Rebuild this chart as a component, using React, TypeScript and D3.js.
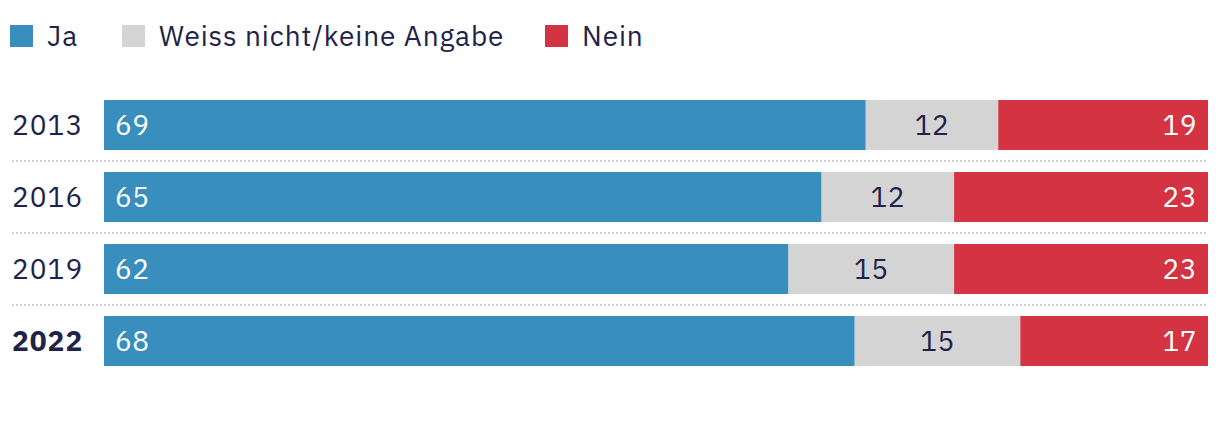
import React from "react";
import * as d3 from "d3";

const years = ["2013", "2016", "2019", "2022"];
const ja = [69, 65, 62, 68];
const weissNicht = [12, 12, 15, 15];
const nein = [19, 23, 23, 17];
const seriesNames = ["Ja", "Weiss nicht/keine Angabe", "Nein"];
const colors = ["#388ebc", "#d4d4d4", "#d43441"];
const textColor = "#20224a";
const FONT = "'IBM Plex Sans', 'Open Sans', sans-serif";

export default function App() {
  const W = 1220, H = 426;
  const x = d3.scaleLinear().domain([0, 100]).range([104, 1208]);
  const y = d3.scaleBand<string>().domain(years).range([89, 377]).paddingInner(22 / 72).paddingOuter(11 / 72);
  const rows = years.map((yr, i) => ({ yr, vals: [ja[i], weissNicht[i], nein[i]] }));
  const legendX = [10, 122, 545];
  return (
    <svg width={W} height={H} style={{ position: "absolute", left: 0, top: 0, background: "#fff" }} fontFamily={FONT}>
      {seriesNames.map((s, i) => (
        <g key={s} transform={`translate(${legendX[i]},25)`}>
          <rect width={23} height={22} fill={colors[i]} />
          <text x={37} y={11} dy="0.35em" fontSize={28} letterSpacing={0.9} fill={textColor}>{s}</text>
        </g>
      ))}
      {years.slice(1).map((yr) => (
        <line key={yr} x1={12} x2={1208} y1={(y(yr) as number) - 11} y2={(y(yr) as number) - 11}
          stroke="#cfcfcf" strokeWidth={2} strokeDasharray="2 2" />
      ))}
      {rows.map((r, ri) => {
        const y0 = y(r.yr) as number;
        const bw = y.bandwidth();
        let cum = 0;
        return (
          <g key={r.yr}>
            <text x={12} y={y0 + bw / 2} dy="0.35em" fontSize={28} letterSpacing={1} fill={textColor}
              fontWeight={ri === years.length - 1 ? 700 : 400}>{r.yr}</text>
            {r.vals.map((v, si) => {
              const x0 = x(cum), x1 = x(cum + v);
              cum += v;
              let tx = x0 + 11, anchor = "start";
              if (si === 1) { tx = (x0 + x1) / 2; anchor = "middle"; }
              if (si === 2) { tx = x1 - 11; anchor = "end"; }
              return (
                <g key={si}>
                  <rect x={x0} y={y0} width={x1 - x0} height={bw} fill={colors[si]} />
                  <text x={tx} y={y0 + bw / 2} dy="0.35em" textAnchor={anchor} fontSize={28} letterSpacing={0.5}
                    fill={si === 1 ? textColor : "#fff"}>{v}</text>
                </g>
              );
            })}
          </g>
        );
      })}
    </svg>
  );
}
